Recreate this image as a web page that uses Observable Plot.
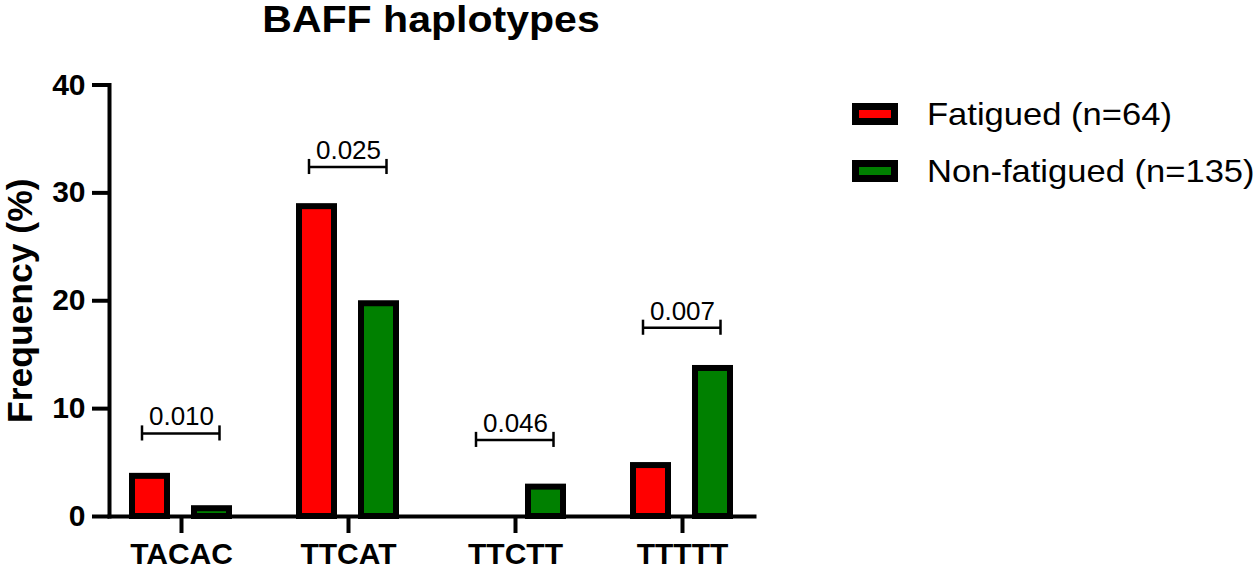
<!DOCTYPE html>
<html>
<head>
<meta charset="utf-8">
<script src="https://cdn.jsdelivr.net/npm/d3@7"></script>
<script src="https://cdn.jsdelivr.net/npm/@observablehq/plot@0.6"></script>
<style>
  body { margin: 0; background: #fff; font-family: "Liberation Sans", Arial, Helvetica, sans-serif; }
  #wrap { position: relative; width: 1260px; height: 569px; overflow: hidden; }
  #left { position: absolute; left: 0; top: 0; width: 800px; }
  #title { height: 44px; width: 862px; text-align: center; white-space: nowrap; }
  #title span { display: inline-block; font-weight: bold; font-size: 36px; line-height: 40px; transform: scaleX(1.14); transform-origin: center; }
  #legend { position: absolute; left: 852px; top: 0; }
  .item { position: absolute; left: 0; height: 22px; display: flex; align-items: center; white-space: nowrap; }
  .sw { width: 46px; height: 22px; box-sizing: border-box; border: 7px solid #000; flex: none; }
  .lab { margin-left: 29px; font-size: 32px; line-height: 22px; color: #000; display: inline-block; transform: scaleX(1.08); transform-origin: left center; }
  svg text { font-family: "Liberation Sans", Arial, Helvetica, sans-serif; }
  g[aria-label="y-axis label"] text { font-size: 35.5px; font-weight: bold; }
</style>
</head>
<body>
<div id="wrap">
  <div id="left">
    <div id="title"><span>BAFF haplotypes</span></div>
    <div id="chart"></div>
  </div>
  <div id="legend"></div>
</div>
<script>
// ---- data ----
const haplotypes = ["TACAC", "TTCAT", "TTCTT", "TTTTT"];
const groups = ["Fatigued (n=64)", "Non-fatigued (n=135)"];
const fatigued = [4, 29, 0, 5];
const nonFatigued = [1, 20, 3, 14];
const pValues = ["0.010", "0.025", "0.046", "0.007"];
const bracketY = [7.7, 32.4, 7.1, 17.5];
const yTicks = [0, 10, 20, 30, 40];
const groupColors = ["#FF0000", "#008000"];

// ---- tables for the library ----
const bars = haplotypes.flatMap((h, i) => [
  {haplotype: h, group: groups[0], value: fatigued[i]},
  {haplotype: h, group: groups[1], value: nonFatigued[i]}
]);
const brackets = haplotypes.map((h, i) => ({haplotype: h, y: bracketY[i], label: pValues[i]}));
const capHalf = 0.7;

const chart = Plot.plot({
  width: 800,
  height: 525,
  marginLeft: 107,
  marginRight: 45,
  marginTop: 40.5,
  marginBottom: 53,
  style: {background: "transparent", overflow: "visible"},
  fx: {domain: haplotypes, paddingInner: 0.138, paddingOuter: 0},
  x: {domain: groups, paddingInner: 0.429, paddingOuter: 0.371, axis: null},
  y: {domain: [0, 40]},
  color: {domain: groups, range: groupColors},
  marks: [
    Plot.barY(bars, {
      fx: "haplotype", x: "group", y: "value", fill: "group",
      stroke: "black", strokeWidth: 6, insetTop: 3,
      filter: d => d.value > 0
    }),
    Plot.ruleY(brackets, {
      fx: "haplotype", y: "y", x1: () => groups[0], x2: () => groups[1],
      insetLeft: 10, insetRight: 10, strokeWidth: 2.5, stroke: "black"
    }),
    Plot.ruleX(brackets, {
      fx: "haplotype", x: () => groups[0], y1: d => d.y - capHalf, y2: d => d.y + capHalf,
      dx: -8, strokeWidth: 2.5, stroke: "black"
    }),
    Plot.ruleX(brackets, {
      fx: "haplotype", x: () => groups[1], y1: d => d.y - capHalf, y2: d => d.y + capHalf,
      dx: 7.5, strokeWidth: 2.5, stroke: "black"
    }),
    Plot.text(brackets, {
      fx: "haplotype", y: "y", text: "label", lineAnchor: "bottom", dy: -8,
      fontSize: 26, fill: "black"
    }),
    Plot.axisY({
      ticks: yTicks, tickSize: 17, tickPadding: 7, strokeWidth: 4,
      fontSize: 30, fontWeight: "bold", tickFormat: d => String(d),
      label: "Frequency (%)", labelAnchor: "center", labelOffset: 103, labelArrow: false
    }),
    Plot.axisFx({
      anchor: "bottom", tickSize: 17, tickPadding: 9, strokeWidth: 4,
      fontSize: 30, fontWeight: "bold", label: null
    }),
    Plot.frame({anchor: "bottom", facet: "super", strokeWidth: 4, stroke: "black"}),
    Plot.frame({anchor: "left", facet: "super", strokeWidth: 4, stroke: "black"})
  ]
});
document.getElementById("chart").appendChild(chart);

// ---- legend ----
const legend = document.getElementById("legend");
const legendTops = [103, 160];
groups.forEach((g, i) => {
  const item = document.createElement("div");
  item.className = "item";
  item.style.top = legendTops[i] + "px";
  const sw = document.createElement("div");
  sw.className = "sw";
  sw.style.background = groupColors[i];
  const lab = document.createElement("span");
  lab.className = "lab";
  lab.textContent = g;
  item.appendChild(sw);
  item.appendChild(lab);
  legend.appendChild(item);
});
</script>
</body>
</html>
